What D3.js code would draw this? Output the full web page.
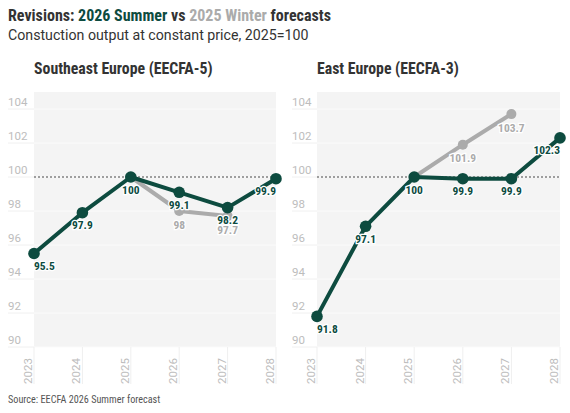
<!DOCTYPE html>
<html>
<head>
<meta charset="utf-8">
<script src="https://cdn.jsdelivr.net/npm/d3@7"></script>
<style>
  body { margin: 0; background: #fff; }
  svg { display: block; }
</style>
</head>
<body>
<div id="chart"></div>
<script>
// data
const years = [2023, 2024, 2025, 2026, 2027, 2028];
const yTicks = [90, 92, 94, 96, 98, 100, 102, 104];
const panelTitles = ["Southeast Europe (EECFA-5)", "East Europe (EECFA-3)"];
const seSummer = [95.5, 97.9, 100, 99.1, 98.2, 99.9];
const seWinter = [null, null, 100, 98, 97.7, null];
const eeSummer = [91.8, 97.1, 100, 99.9, 99.9, 102.3];
const eeWinter = [null, null, 100, 101.9, 103.7, null];

const green = "#0d4b3f";
const grey = "#ababab";
const condensed = "'Roboto Condensed', 'Liberation Sans Narrow', Roboto, sans-serif";

const width = 570, height = 413;
const svg = d3.select("#chart").append("svg")
    .attr("width", width)
    .attr("height", height)
    .style("font-family", "Roboto, sans-serif");

// header
let title = svg.append("text")
    .attr("x", 8).attr("y", 21)
    .style("font-size", "16px")
    .style("font-weight", 700)
    .style("font-family", condensed)
    .attr("fill", "#333");
title.append("tspan").text("Revisions: ");
title.append("tspan").attr("fill", green).text("2026 Summer");
title.append("tspan").text(" vs ");
title.append("tspan").attr("fill", grey).text("2025 Winter");
title.append("tspan").text(" forecasts");

svg.append("text")
    .attr("x", 8).attr("y", 40)
    .style("font-size", "14.2px")
    .attr("fill", "#333")
    .text("Constuction output at constant price, 2025=100");

svg.append("text")
    .attr("x", 8).attr("y", 403)
    .style("font-size", "10.2px")
    .style("font-family", condensed)
    .attr("fill", "#555")
    .text("Source: EECFA 2026 Summer forecast");

const panels = [
    {title: panelTitles[0], left: 34, right: 276, axisX: 8, summer: seSummer, winter: seWinter},
    {title: panelTitles[1], left: 317, right: 560, axisX: 292, summer: eeSummer, winter: eeWinter}
];

const plotTop = 92, plotBottom = 347;

panels.forEach(p => {
    let g = svg.append("g");

    let x = d3.scalePoint().domain(years).range([p.left, p.right]);
    let y = d3.scaleLinear().domain([90, 105]).range([plotBottom, plotTop]);

    g.append("text")
        .attr("x", p.left).attr("y", 74)
        .style("font-size", "15.8px")
        .style("font-weight", 700)
        .style("font-family", condensed)
        .attr("fill", "#333")
        .text(p.title);

    // plot background
    g.append("rect")
        .attr("x", p.left).attr("y", plotTop)
        .attr("width", p.right - p.left).attr("height", plotBottom - plotTop)
        .attr("fill", "#f4f4f4");

    // horizontal grid + y labels
    yTicks.forEach(t => {
        g.append("line")
            .attr("x1", p.axisX).attr("x2", p.left)
            .attr("y1", y(t)).attr("y2", y(t))
            .attr("stroke", "#f0f0f0");
        g.append("line")
            .attr("x1", p.left).attr("x2", p.right)
            .attr("y1", y(t)).attr("y2", y(t))
            .attr("stroke", "#fbfbfb");
        g.append("text")
            .attr("x", p.axisX).attr("y", y(t) - 3)
            .style("font-size", "11.5px")
            .attr("fill", "#bdbdbd")
            .text(t);
    });

    // vertical ticks + year labels
    years.forEach(yr => {
        g.append("line")
            .attr("x1", x(yr)).attr("x2", x(yr))
            .attr("y1", plotBottom).attr("y2", 384)
            .attr("stroke", "#efefef");
        g.append("text")
            .attr("transform", `translate(${x(yr) - 2},384) rotate(-90)`)
            .style("font-size", "11.5px")
            .attr("fill", "#bdbdbd")
            .text(yr);
    });

    // reference line at 100
    g.append("line")
        .attr("x1", p.left).attr("x2", p.right)
        .attr("y1", y(100)).attr("y2", y(100))
        .attr("stroke", "#444")
        .attr("stroke-dasharray", "2,2");

    let line = d3.line()
        .defined(d => d.v !== null)
        .x(d => x(d.year))
        .y(d => y(d.v));

    let series = [
        {values: p.winter, color: grey, r: 5},
        {values: p.summer, color: green, r: 5.8}
    ];

    series.forEach(s => {
        let pts = years.map((yr, i) => ({year: yr, v: s.values[i]}));
        g.append("path")
            .datum(pts)
            .attr("d", line)
            .attr("fill", "none")
            .attr("stroke", s.color)
            .attr("stroke-width", 4)
            .attr("stroke-linejoin", "round");
        g.selectAll(null)
            .data(pts.filter(d => d.v !== null))
            .enter()
            .append("circle")
            .attr("cx", d => x(d.year))
            .attr("cy", d => y(d.v))
            .attr("r", s.r)
            .attr("fill", s.color);
    });

    // value labels (winter first, summer on top); skip the shared 2025 winter point
    series.forEach(s => {
        let pts = years.map((yr, i) => ({year: yr, v: s.values[i]}))
            .filter(d => d.v !== null)
            .filter(d => !(s.color === grey && d.year === 2025));
        g.selectAll(null)
            .data(pts)
            .enter()
            .append("text")
            .attr("x", d => x(d.year))
            .attr("y", d => y(d.v) + (s.color === grey ? 17.5 : 16.5))
            .attr("text-anchor", d => d.year === 2023 ? "start" : d.year === 2028 ? "end" : "middle")
            .style("font-size", "11.5px")
            .style("font-weight", 700)
            .style("font-family", condensed)
            .attr("fill", s.color)
            .attr("stroke", "#fff")
            .attr("stroke-width", 2.5)
            .attr("paint-order", "stroke")
            .text(d => d.v);
    });
});
</script>
</body>
</html>
